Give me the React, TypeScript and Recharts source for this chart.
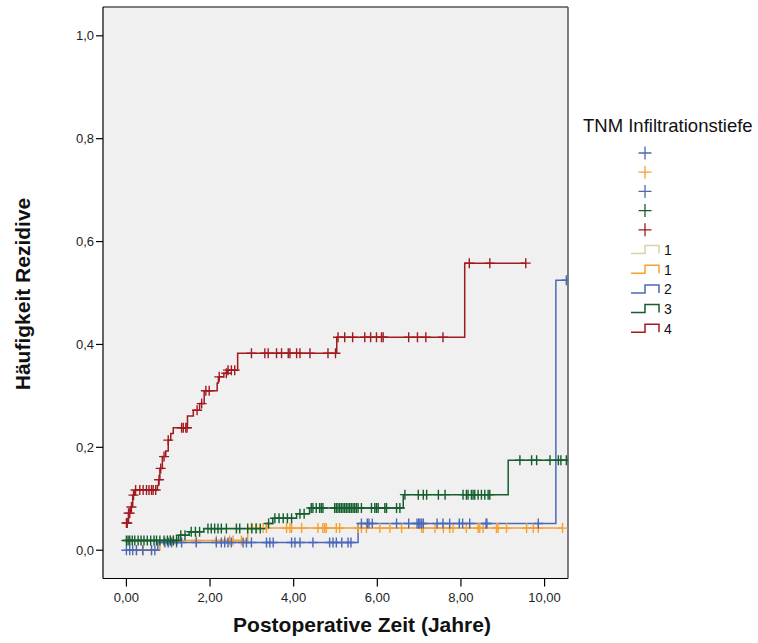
import React from 'react';
import { ComposedChart, Line, Scatter, XAxis, YAxis, CartesianGrid, ReferenceLine, Legend } from 'recharts';

// cumulative recurrence, step changes per TNM group
const redTimes = [0, 0.05, 0.1, 0.15, 0.2, 0.74, 0.77, 0.8, 0.86, 0.94, 1.0, 1.06, 1.12, 1.46, 1.6, 1.75, 1.86, 2.17, 2.2, 2.33, 2.42, 2.66, 5.03, 8.09, 9.55];
const redRisk = [0.053, 0.072, 0.084, 0.107, 0.117, 0.126, 0.137, 0.159, 0.182, 0.193, 0.214, 0.227, 0.238, 0.261, 0.272, 0.285, 0.31, 0.325, 0.337, 0.344, 0.35, 0.383, 0.414, 0.558, 0.558];

const greenTimes = [0, 1.25, 1.5, 1.85, 3.35, 3.5, 4.07, 4.38, 6.62, 9.13, 10.55];
const greenRisk = [0.019, 0.029, 0.036, 0.042, 0.052, 0.062, 0.071, 0.082, 0.108, 0.175, 0.175];

const blueTimes = [0, 0.75, 5.54, 10.27, 10.55];
const blueRisk = [0, 0.015, 0.052, 0.525, 0.525];

const orangeTimes = [0, 0.8, 2.9, 10.43];
const orangeRisk = [0, 0.019, 0.043, 0.043];

// censored observations (times)
const redCensored = [0, 0.02, 0.05, 0.08, 0.12, 0.17, 0.22, 0.32, 0.4, 0.48, 0.54, 0.6, 0.64, 0.7, 0.78, 0.82, 0.9, 1.0, 1.32, 1.36, 1.42, 1.45, 1.69, 1.8, 1.9, 1.98, 2.22, 2.39, 2.43, 2.51, 2.59, 2.99, 3.31, 3.39, 3.59, 3.71, 3.87, 3.91, 4.07, 4.15, 4.39, 4.82, 5.0, 5.06, 5.22, 5.41, 5.7, 5.84, 5.98, 6.1, 6.14, 6.75, 6.96, 7.16, 7.57, 8.2, 8.69, 9.55];
const greenCensored = [0, 0.04, 0.08, 0.14, 0.2, 0.28, 0.35, 0.42, 0.5, 0.58, 0.66, 0.72, 0.8, 0.9, 0.98, 1.05, 1.12, 1.2, 1.3, 1.4, 1.55, 1.65, 1.75, 1.95, 2.03, 2.11, 2.19, 2.27, 2.39, 2.63, 2.71, 2.9, 3.0, 3.1, 3.2, 3.4, 3.55, 3.65, 3.75, 3.85, 3.95, 4.15, 4.25, 4.42, 4.46, 4.54, 4.62, 4.66, 4.7, 4.98, 5.02, 5.06, 5.1, 5.14, 5.18, 5.22, 5.26, 5.3, 5.34, 5.38, 5.42, 5.46, 5.5, 5.54, 5.62, 5.86, 5.94, 5.98, 6.02, 6.18, 6.22, 6.46, 6.54, 6.66, 6.98, 7.1, 7.18, 7.46, 7.62, 8.05, 8.13, 8.17, 8.25, 8.29, 8.33, 8.41, 8.49, 8.57, 8.65, 8.69, 9.41, 9.69, 9.81, 10.13, 10.33, 10.39, 10.52];
const blueCensored = [0, 0.08, 0.15, 0.24, 0.39, 0.6, 0.68, 0.92, 1.0, 1.08, 1.2, 1.32, 1.67, 2.15, 2.27, 2.35, 2.43, 2.51, 2.79, 2.87, 2.99, 3.35, 3.43, 3.51, 3.95, 4.03, 4.15, 4.46, 4.86, 4.94, 5.02, 5.15, 5.3, 5.37, 5.62, 5.76, 5.8, 5.88, 6.46, 6.75, 6.95, 6.99, 7.02, 7.06, 7.1, 7.43, 7.57, 7.73, 7.96, 8.04, 8.21, 8.6, 8.62, 9.85, 10.52];
const orangeCensored = [0.24, 0.4, 0.6, 1.05, 1.13, 1.67, 2.15, 2.35, 2.47, 2.55, 2.75, 2.99, 3.11, 3.27, 3.35, 3.83, 3.91, 3.95, 4.19, 4.58, 4.7, 4.74, 4.78, 5.02, 5.1, 5.54, 5.62, 5.74, 6.06, 6.3, 6.58, 7.06, 7.1, 7.38, 7.58, 7.73, 7.81, 8.13, 8.41, 8.45, 8.53, 8.85, 8.89, 9.09, 9.57, 9.73, 9.85, 10.43];

const xTicks = [0, 2, 4, 6, 8, 10];
const yTicks = [0, 0.2, 0.4, 0.6, 0.8, 1.0];

const legendCensorColors = ['#4b68b8', '#f5a030', '#4b68b8', '#155e2e', '#a11a1f'];
const legendLineColors = ['#d8d4a8', '#f5a030', '#4b68b8', '#155e2e', '#a11a1f'];
const legendLabels = ['1', '1', '2', '3', '4'];

const RED = '#a11a1f';
const GREEN = '#155e2e';
const BLUE = '#4b68b8';
const ORANGE = '#f5a030';

const toSteps = (times: number[], risk: number[]) => times.map((t, i) => ({ t, v: risk[i] }));
const onCurve = (times: number[], risk: number[], cens: number[]) =>
  cens.map((t) => {
    let v = risk[0];
    times.forEach((et, i) => {
      if (et <= t) v = risk[i];
    });
    return { t, v };
  });

const plus = (color: string) => (props: any) => {
  const { cx, cy } = props;
  return <path d={`M${cx - 5},${cy}h10M${cx},${cy - 5}v10`} stroke={color} strokeWidth={1.4} fill="none" />;
};

const font = '"Liberation Sans", Arial, sans-serif';

function LegendBox() {
  return (
    <svg width={183} height={240} style={{ display: 'block' }}>
      <text x={8} y={24} fontSize={18.5} fontFamily={font} fill="#111">TNM Infiltrationstiefe</text>
      {legendCensorColors.map((c, i) => {
        const cy = 45 + i * 19.2;
        return <path key={'c' + i} d={`M63.5,${cy}h13M70,${cy - 6.5}v13`} stroke={c} strokeWidth={1.3} fill="none" />;
      })}
      {legendLineColors.map((c, i) => {
        const cy = 141.5 + i * 19.7;
        return (
          <g key={'l' + i}>
            <path d={`M56,${cy + 4}H70V${cy - 4}H84V${cy + 4}`} stroke={c} strokeWidth={1.5} fill="none" />
            <text x={89} y={cy + 5.5} fontSize={14} fontFamily={font} fill="#111">{legendLabels[i]}</text>
          </g>
        );
      })}
    </svg>
  );
}

export default function App() {
  return (
    <div style={{ position: 'absolute', left: 0, top: 0 }}>
      <ComposedChart width={758} height={643} margin={{ top: 7, right: 190, bottom: 0, left: 0 }}>
        <CartesianGrid fill="#f0f0f0" stroke="none" horizontal={false} vertical={false} />
        <XAxis
          dataKey="t"
          type="number"
          domain={[-0.56, 10.56]}
          allowDataOverflow
          ticks={xTicks}
          tickFormatter={(v: number) => v.toFixed(2).replace('.', ',')}
          height={64.5}
          tickSize={8}
          tickMargin={6}
          tick={{ fontSize: 13, fill: '#222', fontFamily: font }}
          axisLine={{ stroke: '#000', strokeWidth: 1.2 }}
          tickLine={{ stroke: '#000', strokeWidth: 1.2 }}
          label={{
            content: () => (
              <text x={362} y={632} textAnchor="middle" fontSize={21} fontWeight="bold" fontFamily={font} fill="#111">
                Postoperative Zeit (Jahre)
              </text>
            ),
          }}
        />
        <YAxis
          dataKey="v"
          type="number"
          domain={[-0.055, 1.056]}
          allowDataOverflow
          ticks={yTicks}
          tickFormatter={(v: number) => v.toFixed(1).replace('.', ',')}
          width={103}
          tickSize={7}
          tickMargin={2}
          tick={{ fontSize: 13, fill: '#222', fontFamily: font }}
          axisLine={{ stroke: '#000', strokeWidth: 1.2 }}
          tickLine={{ stroke: '#000', strokeWidth: 1.2 }}
          label={{
            content: () => (
              <text x={30} y={294} transform="rotate(-90 30 294)" textAnchor="middle" fontSize={21} fontWeight="bold" fontFamily={font} fill="#111">
                Häufigkeit Rezidive
              </text>
            ),
          }}
        />
        <ReferenceLine y={1.056} stroke="#555" strokeWidth={1.5} />
        <ReferenceLine x={10.56} stroke="#555" strokeWidth={1.5} />
        <Line data={toSteps(orangeTimes, orangeRisk)} dataKey="v" type="stepAfter" stroke={ORANGE} strokeWidth={1.5} dot={false} isAnimationActive={false} />
        <Line data={toSteps(blueTimes, blueRisk)} dataKey="v" type="stepAfter" stroke={BLUE} strokeWidth={1.5} dot={false} isAnimationActive={false} />
        <Line data={toSteps(greenTimes, greenRisk)} dataKey="v" type="stepAfter" stroke={GREEN} strokeWidth={1.5} dot={false} isAnimationActive={false} />
        <Line data={toSteps(redTimes, redRisk)} dataKey="v" type="stepAfter" stroke={RED} strokeWidth={1.5} dot={false} isAnimationActive={false} />
        <Scatter data={onCurve(orangeTimes, orangeRisk, orangeCensored)} dataKey="v" shape={plus(ORANGE)} isAnimationActive={false} />
        <Scatter data={onCurve(blueTimes, blueRisk, blueCensored)} dataKey="v" shape={plus(BLUE)} isAnimationActive={false} />
        <Scatter data={onCurve(greenTimes, greenRisk, greenCensored)} dataKey="v" shape={plus(GREEN)} isAnimationActive={false} />
        <Scatter data={onCurve(redTimes, redRisk, redCensored)} dataKey="v" shape={plus(RED)} isAnimationActive={false} />
        <Legend
          layout="horizontal"
          verticalAlign="middle"
          align="center"
          content={() => <LegendBox />}
          wrapperStyle={{ position: 'absolute', left: 575, top: 108, width: 183, height: 240 }}
        />
      </ComposedChart>
    </div>
  );
}
